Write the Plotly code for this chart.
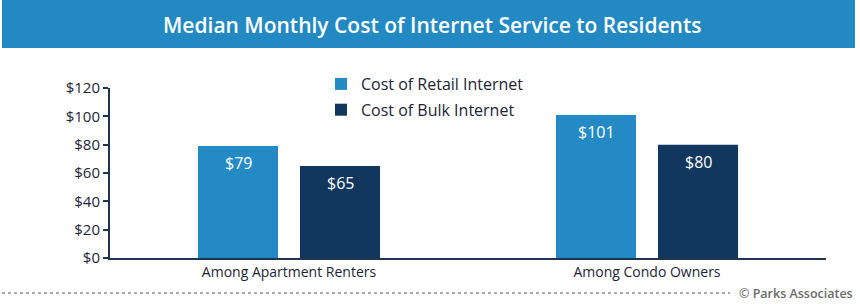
import plotly.graph_objects as go

categories = ["Among Apartment Renters", "Among Condo Owners"]
retail = [79, 101]
bulk = [65, 80]
series_names = ["Cost of Retail Internet", "Cost of Bulk Internet"]
y_ticks = [0, 20, 40, 60, 80, 100, 120]

RETAIL_C = "#238AC6"
BULK_C = "#12375E"
TEXT_C = "#1C2536"
FONT = "Open Sans"

L, R, T, B = 110, 34, 88, 46
W, H = 860, 304
pw, ph = W - L - R, H - T - B

def px_x(p):
    return (p - L) / pw

def px_y(p):
    return (H - B - p) / ph

fig = go.Figure()
for i, (name, vals, col) in enumerate([(series_names[0], retail, RETAIL_C), (series_names[1], bulk, BULK_C)]):
    fig.add_trace(go.Bar(
        x=categories, y=vals, name=name, legendgroup=f"g{i}",
        marker=dict(color=col, line=dict(width=0)), hoverinfo="skip",
    ))

annotations = []
for vals, shift in [(retail, -51), (bulk, 51)]:
    for c, v in zip(categories, vals):
        annotations.append(dict(
            xref="x", yref="y", x=c, y=v, text=f"${v}", showarrow=False,
            xshift=shift, yshift=-17, xanchor="center", yanchor="middle",
            font=dict(size=16, color="white", family=FONT)))

annotations += [
    dict(text="Median Monthly Cost of Internet Service to Residents",
         xref="paper", yref="paper", x=px_x(432), y=px_y(25), xanchor="center",
         yanchor="middle", showarrow=False,
         font=dict(size=21, color="white", family=FONT, weight=600)),
    dict(text="© Parks Associates", xref="paper", yref="paper",
         x=px_x(855), y=px_y(293), xanchor="right", yanchor="middle", showarrow=False,
         font=dict(size=12.5, color="#6B6B6B", family=FONT, weight=600)),
]

fig.update_layout(
    width=W, height=H, margin=dict(l=L, r=R, t=T, b=B),
    paper_bgcolor="white", plot_bgcolor="white",
    barmode="group", bargap=0.43, bargroupgap=0.2157,
    font=dict(family=FONT, color=TEXT_C, size=14),
    showlegend=True,
    legend=dict(x=px_x(321), y=px_y(67), xanchor="left", yanchor="top",
                font=dict(size=16, color=TEXT_C, family=FONT),
                bgcolor="rgba(0,0,0,0)", tracegroupgap=2, itemwidth=30),
    xaxis=dict(showline=True, linecolor="#1E3553", linewidth=2, ticks="",
               tickfont=dict(size=14, color=TEXT_C, family=FONT), showgrid=False,
               fixedrange=True),
    yaxis=dict(range=[0, 120], tickvals=y_ticks, ticktext=[f"${v}" for v in y_ticks],
               showline=True, linecolor="#1E3553", linewidth=2, ticks="outside",
               ticklen=5, tickcolor="#1E3553", tickwidth=2, showgrid=False, zeroline=False,
               tickfont=dict(size=15, color=TEXT_C, family=FONT), fixedrange=True),
    shapes=[
        dict(type="rect", xref="paper", yref="paper", x0=px_x(2), x1=px_x(855),
             y0=px_y(48), y1=px_y(0), fillcolor="#2389C3", line=dict(width=0), layer="below"),
        dict(type="line", xref="paper", yref="paper", x0=px_x(2), x1=px_x(730),
             y0=px_y(293), y1=px_y(293), line=dict(color="#555555", width=1, dash="dot")),
    ],
    annotations=annotations,
)

fig.write_html("out.html")
